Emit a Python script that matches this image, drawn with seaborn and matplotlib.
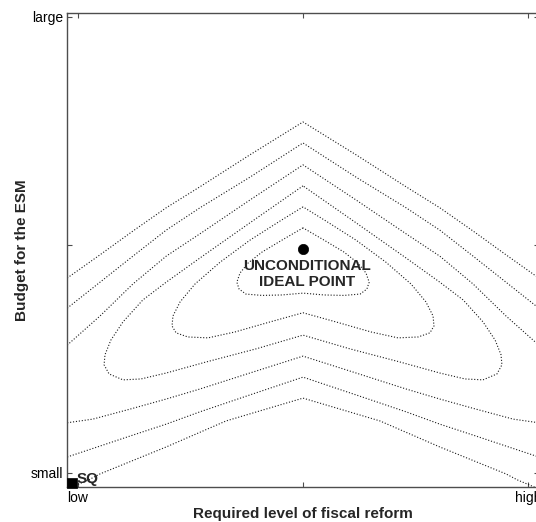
import matplotlib
matplotlib.use("Agg")
import matplotlib.pyplot as plt
import seaborn as sns

# Indifference curves around the unconditional ideal point (reform level, ESM budget)
c1_x = [0.500, 0.453, 0.409, 0.378, 0.360, 0.353, 0.358, 0.373, 0.409, 0.453, 0.500,
        0.547, 0.591, 0.627, 0.642, 0.647, 0.640, 0.622, 0.591, 0.547, 0.500]
c1_y = [0.537, 0.510, 0.484, 0.460, 0.438, 0.418, 0.403, 0.392, 0.389, 0.390, 0.394,
        0.390, 0.389, 0.392, 0.403, 0.418, 0.438, 0.460, 0.484, 0.510, 0.537]

c2_x = [0.500, 0.449, 0.382, 0.316, 0.260, 0.227, 0.211, 0.209, 0.218, 0.244, 0.289, 0.349, 0.427,
        0.500, 0.573, 0.651, 0.711, 0.756, 0.782, 0.791, 0.789, 0.773, 0.740, 0.684, 0.618, 0.551, 0.500]
c2_y = [0.583, 0.552, 0.510, 0.462, 0.414, 0.375, 0.344, 0.322, 0.307, 0.298, 0.296, 0.309, 0.331,
        0.351, 0.331, 0.309, 0.296, 0.298, 0.307, 0.322, 0.344, 0.375, 0.414, 0.462, 0.510, 0.552, 0.583]

c3_x = [0.500, 0.382, 0.271, 0.196, 0.144, 0.100, 0.073, 0.060, 0.058, 0.069, 0.100, 0.140, 0.196, 0.284, 0.396,
        0.500, 0.604, 0.716, 0.804, 0.860, 0.900, 0.931, 0.942, 0.940, 0.927, 0.900, 0.856, 0.804, 0.729, 0.618, 0.500]
c3_y = [0.629, 0.548, 0.471, 0.418, 0.379, 0.331, 0.291, 0.259, 0.237, 0.217, 0.204, 0.206, 0.219, 0.243, 0.272,
        0.302, 0.272, 0.243, 0.219, 0.206, 0.204, 0.217, 0.237, 0.259, 0.291, 0.331, 0.379, 0.418, 0.471, 0.548, 0.629]

c4_upper_x = [-0.024, 0.049, 0.122, 0.196, 0.271, 0.382, 0.500, 0.618, 0.729, 0.804, 0.878, 0.951, 1.024]
c4_upper_y = [0.280, 0.344, 0.414, 0.475, 0.524, 0.598, 0.675, 0.598, 0.524, 0.475, 0.414, 0.344, 0.280]
c4_lower_x = [-0.024, 0.033, 0.116, 0.196, 0.271, 0.382, 0.500, 0.618, 0.729, 0.804, 0.884, 0.967, 1.024]
c4_lower_y = [0.110, 0.118, 0.140, 0.162, 0.184, 0.219, 0.256, 0.219, 0.184, 0.162, 0.140, 0.118, 0.110]

c5_upper_x = [-0.024, 0.049, 0.122, 0.196, 0.271, 0.382, 0.500, 0.618, 0.729, 0.804, 0.878, 0.951, 1.024]
c5_upper_y = [0.361, 0.418, 0.475, 0.532, 0.581, 0.648, 0.723, 0.648, 0.581, 0.532, 0.475, 0.418, 0.361]
c5_lower_x = [-0.024, 0.049, 0.122, 0.196, 0.271, 0.382, 0.500, 0.618, 0.729, 0.804, 0.878, 0.951, 1.024]
c5_lower_y = [0.035, 0.059, 0.083, 0.107, 0.134, 0.171, 0.210, 0.171, 0.134, 0.107, 0.083, 0.059, 0.035]

c6_upper_x = [-0.024, 0.049, 0.122, 0.196, 0.271, 0.382, 0.500, 0.618, 0.729, 0.804, 0.878, 0.951, 1.024]
c6_upper_y = [0.427, 0.478, 0.530, 0.581, 0.627, 0.697, 0.769, 0.697, 0.627, 0.581, 0.530, 0.478, 0.427]
c6_lower_x = [-0.024, 0.024, 0.049, 0.196, 0.329, 0.411, 0.500, 0.589, 0.671, 0.804, 0.951, 0.976, 1.024]
c6_lower_y = [-0.035, -0.015, -0.002, 0.057, 0.114, 0.138, 0.164, 0.138, 0.114, 0.057, -0.002, -0.015, -0.035]

ideal_point = (0.5, 0.49)
status_quo = (-0.013, -0.021)

x_ticks = [0.0, 0.5, 1.0]
x_tick_labels = ["low", "", "high"]
y_ticks = [0.0, 0.5, 1.0]
y_tick_labels = ["small", "", "large"]

sns.set_style("white")
plt.rcParams["font.family"] = ["Liberation Sans", "DejaVu Sans"]

fig = plt.figure(figsize=(5.36, 5.22), dpi=100)
ax = fig.add_axes([67 / 536, 35 / 522, 472 / 536, 474 / 522])

curves = [
    (c1_x, c1_y), (c2_x, c2_y), (c3_x, c3_y),
    (c4_upper_x, c4_upper_y), (c4_lower_x, c4_lower_y),
    (c5_upper_x, c5_upper_y), (c5_lower_x, c5_lower_y),
    (c6_upper_x, c6_upper_y), (c6_lower_x, c6_lower_y),
]
for xs, ys in curves:
    sns.lineplot(x=xs, y=ys, sort=False, estimator=None, ax=ax,
                 color="#1a1a1a", linewidth=0.8, linestyle=":")

sns.scatterplot(x=[ideal_point[0]], y=[ideal_point[1]], ax=ax, s=55,
                color="black", edgecolor="black", linewidth=0.5, zorder=5)
sns.scatterplot(x=[status_quo[0]], y=[status_quo[1]], ax=ax, marker="s", s=55,
                color="black", edgecolor="black", linewidth=0.5, zorder=5, clip_on=False)

ax.text(0.509, 0.436, "UNCONDITIONAL\nIDEAL POINT", ha="center", va="center",
        fontsize=11, fontweight="bold", linespacing=1.2, zorder=6)
ax.text(-0.002, -0.013, "SQ", ha="left", va="center", fontsize=11,
        fontweight="bold", zorder=6)

ax.set_xlim(-0.0244, 1.0244)
ax.set_ylim(-0.0307, 1.0077)
ax.set_xticks(x_ticks)
ax.set_xticklabels(x_tick_labels)
ax.set_yticks(y_ticks)
ax.set_yticklabels(y_tick_labels)

spine_color = "#4d4d4d"
for s in ax.spines.values():
    s.set_color(spine_color)
    s.set_linewidth(1.0)
ax.tick_params(axis="both", which="both", direction="in", length=3.6, width=0.8,
               color=spine_color, labelsize=10, labelcolor="black",
               top=True, right=True, bottom=True, left=True, pad=3)

ax.set_xlabel("Required level of fiscal reform", fontsize=11, fontweight="bold", labelpad=1)
ax.set_ylabel("Budget for the ESM", fontsize=11, fontweight="bold", labelpad=1)

fig.savefig("out.png", dpi=100)
